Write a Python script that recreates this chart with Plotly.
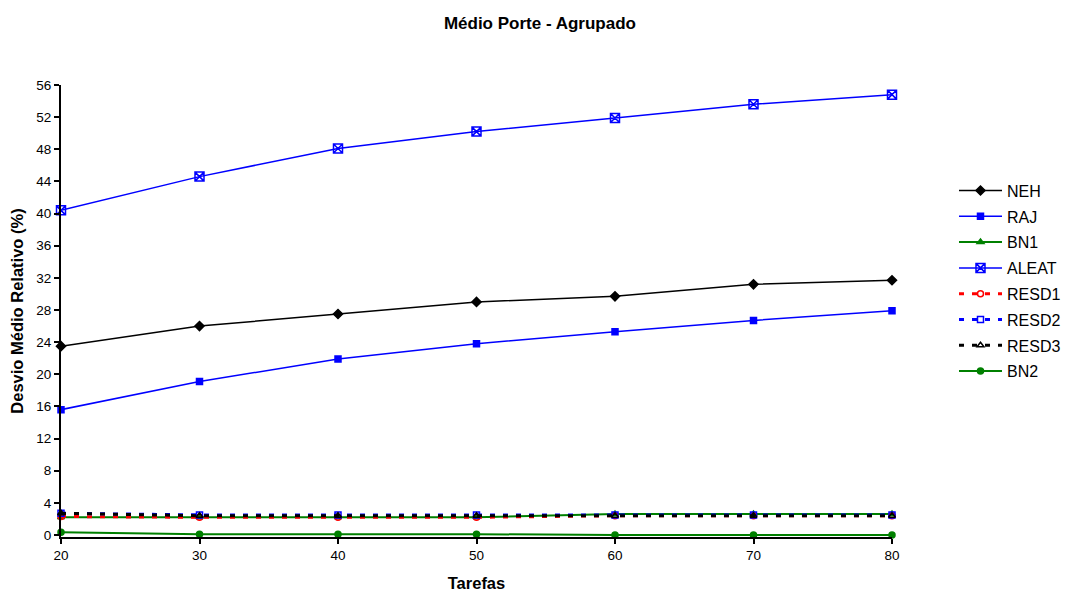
import plotly.graph_objects as go

tarefas = [20, 30, 40, 50, 60, 70, 80]

neh = [23.5, 26.0, 27.5, 29.0, 29.7, 31.2, 31.7]
raj = [15.6, 19.1, 21.9, 23.8, 25.3, 26.7, 27.9]
bn1 = [2.2, 2.2, 2.2, 2.2, 2.6, 2.6, 2.6]
aleat = [40.4, 44.6, 48.1, 50.2, 51.9, 53.6, 54.8]
resd1 = [2.3, 2.2, 2.2, 2.2, 2.4, 2.4, 2.4]
resd2 = [2.7, 2.5, 2.5, 2.5, 2.5, 2.5, 2.5]
resd3 = [2.7, 2.4, 2.4, 2.4, 2.4, 2.4, 2.4]
bn2 = [0.35, 0.1, 0.1, 0.1, 0.0, 0.0, 0.0]

y_ticks = list(range(0, 57, 4))

series = [
    ("NEH", neh, "black", "solid", "diamond", 7, 1.5),
    ("RAJ", raj, "#0000FF", "solid", "square", 6, 1.5),
    ("BN1", bn1, "#008000", "solid", "triangle-up", 6, 2),
    ("ALEAT", aleat, "#0000FF", "solid", "square-x-open", 9, 1.5),
    ("RESD1", resd1, "#FF0000", "5px,8px", "circle-open", 6, 3),
    ("RESD2", resd2, "#0000FF", "5px,8px", "square-open", 6, 3),
    ("RESD3", resd3, "black", "5px,8px", "triangle-up-open", 6, 3),
    ("BN2", bn2, "#008000", "solid", "circle", 6, 2),
]

fig = go.Figure()
for name, vals, color, dash, symbol, msize, lw in series:
    fig.add_trace(go.Scatter(
        x=tarefas, y=vals, name=name, mode="lines+markers",
        legendgroup=name,
        line=dict(color=color, width=lw, dash=dash),
        marker=dict(symbol=symbol, size=msize, color=color,
                    line=dict(color=color, width=1.5)),
        cliponaxis=False,
    ))

fig.update_layout(
    width=1067, height=592,
    paper_bgcolor="white", plot_bgcolor="white",
    margin=dict(l=61, r=175, t=85, b=55, autoexpand=False),
    font=dict(family="Liberation Sans, Arial, sans-serif", color="black", size=13.5),
    title=dict(text="<b>Médio Porte - Agrupado</b>", x=0.506, xanchor="center",
               y=0.961, yanchor="middle", font=dict(size=17)),
    showlegend=True,
    legend=dict(x=1.0746, xanchor="left", y=0.804, yanchor="top",
                font=dict(size=16), bgcolor="rgba(0,0,0,0)",
                itemwidth=43, tracegroupgap=2),
)

fig.update_xaxes(
    range=[20, 80], tickvals=tarefas, showgrid=False, zeroline=False,
    showline=True, linecolor="black", linewidth=2,
    ticks="outside", ticklen=5, tickcolor="black", tickwidth=1.5,
    title=dict(text="<b>Tarefas</b>", font=dict(size=16.5), standoff=18),
    tickfont=dict(size=13.5),
)
fig.update_yaxes(
    range=[-0.25, 56], tickvals=y_ticks, showgrid=False, zeroline=False,
    showline=True, linecolor="black", linewidth=2,
    ticks="outside", ticklen=5, tickcolor="black", tickwidth=1.5,
    title=dict(text="<b>Desvio Médio Relativo (%)</b>", font=dict(size=16.5), standoff=8),
    tickfont=dict(size=13.5),
)

fig.write_html("out.html")
